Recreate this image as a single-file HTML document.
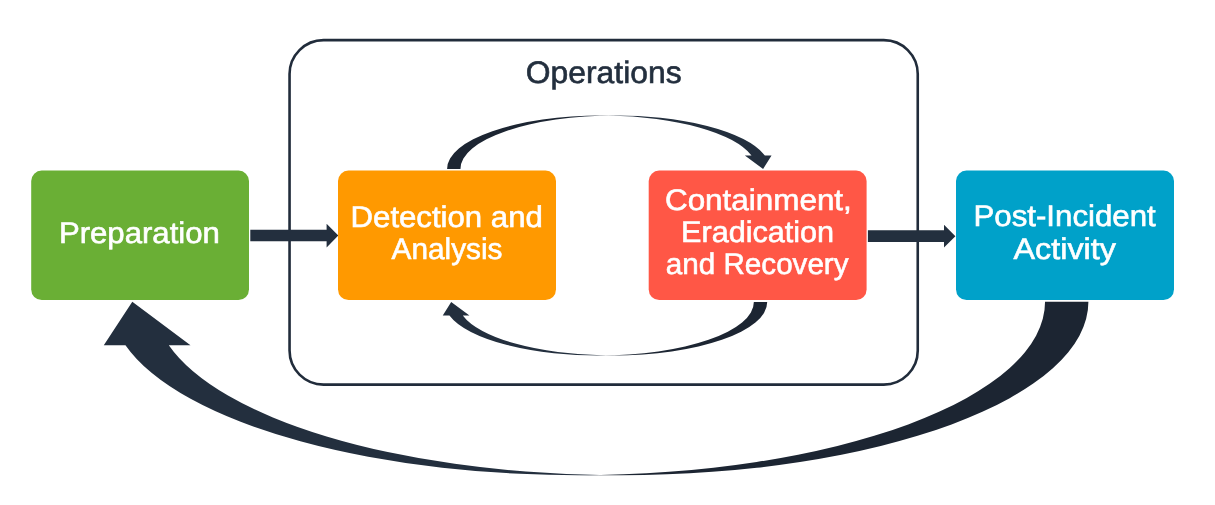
<!DOCTYPE html>
<html><head><meta charset="utf-8"><title>Incident Response</title>
<style>
html,body{margin:0;padding:0;background:#fff;}
body{width:1215px;height:505px;overflow:hidden;}
svg{display:block;will-change:transform;}
text{text-rendering:geometricPrecision;font-family:"Liberation Sans",Arial,sans-serif;font-size:29.8px;text-anchor:middle;}
.w{fill:#fff;stroke:#fff;stroke-width:0.6px;}
.d{fill:#232f3e;stroke:#232f3e;stroke-width:0.6px;}
.k{fill:#232f3e;}
.t{fill:#1c2532;}
</style></head>
<body>
<svg width="1215" height="505" viewBox="0 0 1215 505">
<defs><filter id="g" color-interpolation-filters="sRGB"><feOffset dx="0" dy="0"/></filter></defs>
<rect x="0" y="0" width="1215" height="505" fill="#fff"/>
<!-- operations container -->
<rect x="289.55" y="40.1" width="628.2" height="344.5" rx="34" ry="34" fill="none" stroke="#212c3b" stroke-width="2.6"/>
<g filter="url(#g)"><text class="d" style="font-size:31px" x="603.7" y="83" textLength="155.8" lengthAdjust="spacingAndGlyphs">Operations</text></g>
<!-- loop arrows -->
<path class="t" d="M601.76 115.50 A154.66 53.40 0 0 0 447.10 168.90 L460.45 168.90 A154.66 53.40 0 0 1 615.11 115.50 Z"/>
<path class="k" d="M763.10 168.90 L771.54 155.55 L764.86 155.55 A154.66 53.40 0 0 0 608.44 115.55 A154.66 53.40 0 0 1 751.51 155.55 L744.84 155.55 Z"/>
<path class="t" d="M612.54 355.50 A154.66 53.40 0 0 0 767.20 302.10 L753.85 302.10 A154.66 53.40 0 0 1 599.19 355.50 Z"/>
<path class="k" d="M451.20 302.10 L442.76 315.45 L449.44 315.45 A154.66 53.40 0 0 0 605.86 355.45 A154.66 53.40 0 0 1 462.79 315.45 L469.46 315.45 Z"/>
<!-- big return arrow -->
<path class="t" d="M621.19 475.20 A467.21 173.40 0 0 0 1088.40 301.80 L1045.05 301.80 A467.21 173.40 0 0 1 577.84 475.20 Z"/>
<path class="k" d="M132.30 301.80 L103.79 345.15 L125.46 345.15 A467.21 173.40 0 0 0 599.51 475.01 A467.21 173.40 0 0 1 168.81 345.15 L190.49 345.15 Z"/>
<!-- straight arrows -->
<path class="k" d="M250.3 229.8H326.6V223.7L338.3 235.6L326.6 247.5V241.2H250.3Z"/>
<path class="k" d="M867.9 230.3H944V224.8L955.4 236.2L944 247.6V241.9H867.9Z"/>
<!-- boxes -->
<rect x="31.2" y="170.6" width="217.8" height="129.5" rx="10.5" fill="#6aaf35"/>
<rect x="338" y="170.6" width="218" height="129.5" rx="10.5" fill="#ff9900"/>
<rect x="648.7" y="170.6" width="217.9" height="129.5" rx="10.5" fill="#ff5746"/>
<rect x="956" y="170.6" width="218" height="129.5" rx="10.5" fill="#00a1c9"/>
<!-- labels -->
<g filter="url(#g)">
<text class="w" x="139.4" y="242.6" textLength="161" lengthAdjust="spacingAndGlyphs">Preparation</text>
<text class="w" x="446.7" y="226.5" textLength="192.3" lengthAdjust="spacingAndGlyphs">Detection and</text>
<text class="w" x="447" y="259.4" textLength="110.8" lengthAdjust="spacingAndGlyphs">Analysis</text>
<text class="w" x="758.4" y="210.2" textLength="186.9" lengthAdjust="spacingAndGlyphs">Containment,</text>
<text class="w" x="757.6" y="242.2" textLength="153.1" lengthAdjust="spacingAndGlyphs">Eradication</text>
<text class="w" x="757.2" y="274.2" textLength="182.7" lengthAdjust="spacingAndGlyphs">and Recovery</text>
<text class="w" x="1064.6" y="226.3" textLength="182.3" lengthAdjust="spacingAndGlyphs">Post-Incident</text>
<text class="w" x="1064.7" y="259.2" textLength="102.2" lengthAdjust="spacingAndGlyphs">Activity</text>
</g>
</svg>
</body></html>
